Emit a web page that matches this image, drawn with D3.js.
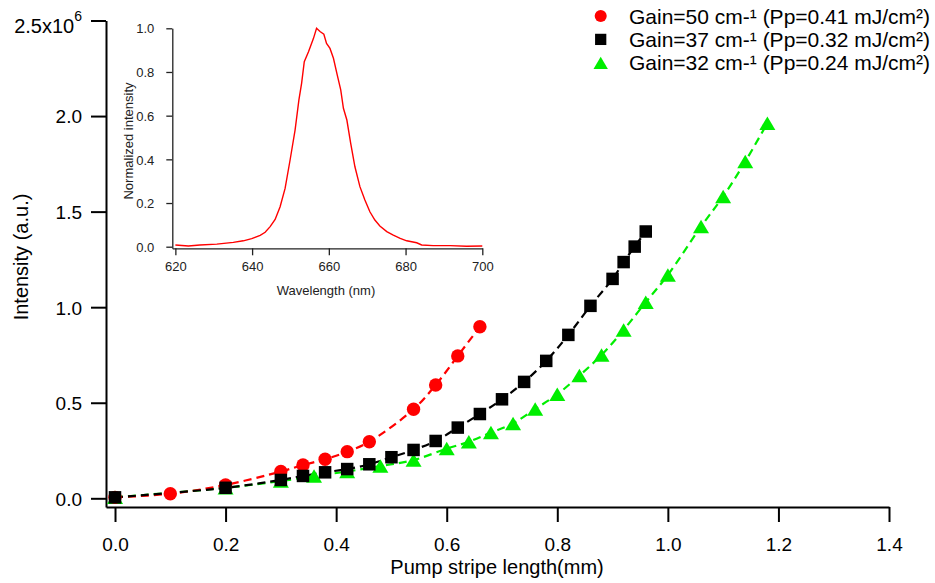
<!DOCTYPE html>
<html><head><meta charset="utf-8">
<script src="https://cdn.jsdelivr.net/npm/d3@7"></script>
<style>body{margin:0;background:#fff}svg{display:block}text{font-family:"Liberation Sans",Arial,Helvetica,sans-serif}</style>
</head><body>
<svg id="c" width="935" height="583"></svg>
<script>
// ---- data ----
const redX   = [0, 0.1, 0.2, 0.3, 0.34, 0.38, 0.42, 0.46, 0.54, 0.58, 0.62, 0.66];
const redY   = [0.005, 0.024, 0.07, 0.14, 0.174, 0.204, 0.244, 0.296, 0.466, 0.593, 0.745, 0.898];
const blackX = [0, 0.2, 0.3, 0.34, 0.38, 0.42, 0.46, 0.5, 0.54, 0.58, 0.62, 0.66, 0.7, 0.74, 0.78, 0.82, 0.86, 0.9, 0.92, 0.94, 0.96];
const blackY = [0.005, 0.055, 0.096, 0.117, 0.136, 0.153, 0.178, 0.215, 0.253, 0.3, 0.37, 0.441, 0.518, 0.609, 0.719, 0.855, 1.007, 1.148, 1.236, 1.317, 1.396];
const greenX = [0, 0.2, 0.3, 0.36, 0.42, 0.48, 0.54, 0.6, 0.64, 0.68, 0.72, 0.76, 0.8, 0.84, 0.88, 0.92, 0.96, 1.0, 1.06, 1.1, 1.14, 1.18];
const greenY = [0.005, 0.055, 0.09, 0.117, 0.14, 0.169, 0.2, 0.26, 0.296, 0.344, 0.392, 0.467, 0.544, 0.642, 0.75, 0.881, 1.026, 1.169, 1.422, 1.579, 1.762, 1.963];
const legendLabels = ["Gain=50 cm-\u00B9 (Pp=0.41 mJ/cm\u00B2)", "Gain=37 cm-\u00B9 (Pp=0.32 mJ/cm\u00B2)", "Gain=32 cm-\u00B9 (Pp=0.24 mJ/cm\u00B2)"];
const xTicks = [0, 0.2, 0.4, 0.6, 0.8, 1.0, 1.2, 1.4];
const yTicks = [0, 0.5, 1.0, 1.5, 2.0, 2.5];
const yTickLabels = ["0.0", "0.5", "1.0", "1.5", "2.0", "2.5x10"];
// inset spectrum
const wl  = [620, 623.4, 626.4, 630.8, 635.1, 637.7, 639.9, 642.1, 643.4, 644.7, 646.0, 647.3, 648.6, 649.9, 651.2, 652.2, 652.9, 653.6, 654.7, 656.0, 656.8, 657.7, 658.7, 659.4, 660.3, 661.2, 662.2, 663.1, 663.8, 664.7, 665.7, 666.8, 668.1, 669.4, 670.7, 672.0, 673.3, 675.1, 676.8, 678.6, 680.3, 682.9, 684.2, 687.2, 691.6, 695.9, 700];
const inten = [0.008, 0.003, 0.008, 0.012, 0.02, 0.027, 0.037, 0.052, 0.066, 0.092, 0.125, 0.183, 0.267, 0.397, 0.534, 0.672, 0.748, 0.847, 0.893, 0.954, 1.0, 0.985, 0.973, 0.931, 0.908, 0.863, 0.786, 0.718, 0.634, 0.58, 0.473, 0.366, 0.275, 0.214, 0.16, 0.122, 0.095, 0.069, 0.053, 0.038, 0.027, 0.018, 0.008, 0.005, 0.005, 0.002, 0.003];
const insetXTicks = [620, 640, 660, 680, 700];
const insetYTicks = [0, 0.2, 0.4, 0.6, 0.8, 1.0];

const svg = d3.select("#c");
const x = d3.scaleLinear().domain([-0.0163, 1.4]).range([106, 889]);
const y = d3.scaleLinear().domain([-0.0455, 2.5]).range([507, 20.5]);

// axes
const gx = svg.append("g").attr("transform", "translate(0,507)")
  .call(d3.axisBottom(x).tickValues(xTicks).tickFormat(d3.format(".1f")).tickSize(15).tickSizeOuter(0));
const gy = svg.append("g").attr("transform", "translate(106,0)")
  .call(d3.axisLeft(y).tickValues(yTicks).tickFormat((d,i)=>yTickLabels[i]).tickSize(15).tickSizeOuter(0));
[gx, gy].forEach(g => {
  g.select(".domain").attr("stroke", "#000").attr("stroke-width", 2);
  g.selectAll(".tick line").attr("stroke", "#000").attr("stroke-width", 2);
  g.selectAll(".tick text").attr("font-size", 19).attr("fill", "#000")
   .attr("font-family", '"Liberation Sans",Arial,sans-serif');
});
gx.selectAll(".tick text").attr("dy", null).attr("y", 44);
gy.selectAll(".tick text").attr("x", -24).attr("dy", "0.36em");
gy.selectAll(".tick").filter(d => d === 2.5).select("text")
  .attr("font-size", 20).attr("dy", "0.62em").append("tspan").attr("font-size", 14).attr("dy", "-0.9em").text("6");

svg.append("text").attr("x", 497).attr("y", 574).attr("text-anchor", "middle")
  .attr("font-size", 20).text("Pump stripe length(mm)");
svg.append("text").attr("transform", "translate(28,257) rotate(-90)").attr("text-anchor", "middle")
  .attr("font-size", 20).text("Intensity (a.u.)");

// series
const series = [
  {xs: greenX, ys: greenY, color: "#00ee00", shape: "tri"},
  {xs: redX, ys: redY, color: "#ff0000", shape: "circle"},
  {xs: blackX, ys: blackY, color: "#000000", shape: "square"}
];
const line = d3.line().x(d => x(d[0])).y(d => y(d[1])).curve(d3.curveCatmullRom.alpha(0.5));
series.forEach(s => {
  const pts = s.xs.map((v, i) => [v, s.ys[i]]);
  svg.append("path").attr("d", line(pts)).attr("fill", "none").attr("stroke", s.color)
    .attr("stroke-width", 2.2).attr("stroke-dasharray", "8,5");
});
function marker(g, shape, cx, cy, color, k) {
  if (shape === "circle") g.append("circle").attr("cx", cx).attr("cy", cy).attr("r", 6.7 * k).attr("fill", color);
  else if (shape === "square") { const s = 12.5 * k; g.append("rect").attr("x", cx - s/2).attr("y", cy - s/2).attr("width", s).attr("height", s).attr("fill", color); }
  else { const w = 16 * k, h = 13.5 * k;
    g.append("path").attr("d", `M${cx},${cy-h/2}L${cx+w/2},${cy+h/2}L${cx-w/2},${cy+h/2}Z`).attr("fill", color); }
}
series.forEach(s => {
  const g = svg.append("g");
  s.xs.forEach((v, i) => marker(g, s.shape, x(v), y(s.ys[i]), s.color, 1));
});

// legend
const legOrder = [series[1], series[2], series[0]];
legOrder.forEach((s, i) => {
  const cy = 16 + i * 23.4;
  marker(svg, s.shape, 600.7, cy, s.color, 0.9);
  svg.append("text").attr("x", 629).attr("y", cy).attr("dy", "0.36em").attr("font-size", 21).text(legendLabels[i]);
});

// inset
const ix = d3.scaleLinear().domain([619.2, 700]).range([172.3, 482.3]);
const iy = d3.scaleLinear().domain([-0.0073, 1]).range([248.3, 28.3]);
const igx = svg.append("g").attr("transform", "translate(0,248.3)")
  .call(d3.axisBottom(ix).tickValues(insetXTicks).tickSize(7).tickSizeOuter(0));
const igy = svg.append("g").attr("transform", "translate(172.3,0)")
  .call(d3.axisLeft(iy).tickValues(insetYTicks).tickFormat(d3.format(".1f")).tickSize(6).tickSizeOuter(0));
[igx, igy].forEach(g => {
  g.select(".domain").attr("stroke", "#222").attr("stroke-width", 1.3);
  g.selectAll(".tick line").attr("stroke", "#222").attr("stroke-width", 1.3);
  g.selectAll(".tick text").attr("font-size", 13).attr("fill", "#222")
   .attr("font-family", '"Liberation Sans",Arial,sans-serif');
});
igx.selectAll(".tick text").attr("y", 18).attr("dy", "0.36em");
igy.selectAll(".tick text").attr("x", -18).attr("dy", "0.36em");
svg.append("text").attr("x", 326).attr("y", 290).attr("dy", "0.36em").attr("text-anchor", "middle")
  .attr("font-size", 13).attr("fill", "#222").text("Wavelength (nm)");
svg.append("text").attr("transform", "translate(128,141) rotate(-90)").attr("dy", "0.36em").attr("text-anchor", "middle")
  .attr("font-size", 13).attr("fill", "#222").text("Normalized intensity");
svg.append("path").attr("d", d3.line().x((d,i)=>ix(d)).y((d,i)=>iy(inten[i]))(wl))
  .attr("fill", "none").attr("stroke", "#ff0000").attr("stroke-width", 1.4);
</script>
</body></html>
